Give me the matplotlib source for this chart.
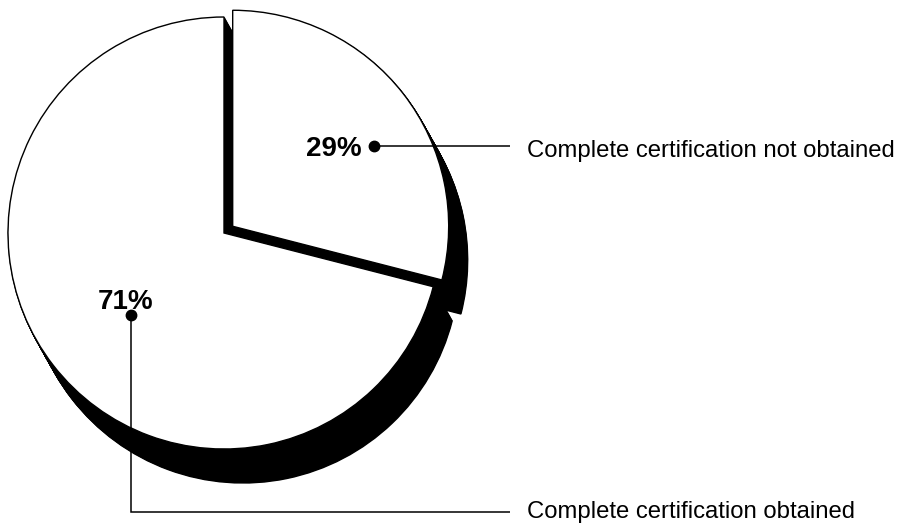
import matplotlib
matplotlib.use("Agg")
import matplotlib.pyplot as plt

# Certification status shares
labels = ["Complete certification not obtained", "Complete certification obtained"]
shares = [29, 71]
pct_labels = ["29%", "71%"]

W, H = 897, 524
fig = plt.figure(figsize=(W / 100, H / 100), dpi=100)
ax = fig.add_axes([0, 0, 1, 1])

center = (224, 291)
radius = 216
explode = [11.0, 0.0]

# extruded black shadow, built from stacked offset copies of the pie
shadow_dx, shadow_dy = 19, -34
steps = 40
for k in range(1, steps + 1):
    t = k / steps
    ax.pie(shares, startangle=90, counterclock=False, radius=radius,
           center=(center[0] + shadow_dx * t, center[1] + shadow_dy * t),
           explode=explode, colors=["black", "black"],
           wedgeprops=dict(edgecolor="black", linewidth=1))

# white pie on top
ax.pie(shares, startangle=90, counterclock=False, radius=radius,
       center=center, explode=explode, colors=["white", "white"],
       wedgeprops=dict(edgecolor="black", linewidth=1.0))

ax.set_xlim(0, W)
ax.set_ylim(0, H)
ax.set_aspect("equal")
ax.axis("off")

font = "Liberation Sans"

# 29% callout
ax.plot([374, 510], [378, 378], color="black", lw=1.1, solid_capstyle="butt")
ax.plot([374], [378], "o", color="black", ms=7.5)
ax.text(362, 368, pct_labels[0], ha="right", va="baseline",
        fontsize=20, fontweight="bold", family=font)
ax.text(527, 367, labels[0], ha="left", va="baseline", fontsize=17.2, family=font)

# 71% callout
ax.plot([131, 131, 510], [209, 12, 12], color="black", lw=1.1,
        solid_capstyle="butt", solid_joinstyle="miter")
ax.plot([131], [209], "o", color="black", ms=7.5)
ax.text(126, 215, pct_labels[1], ha="center", va="baseline",
        fontsize=20, fontweight="bold", family=font)
ax.text(527, 6, labels[1], ha="left", va="baseline", fontsize=17.2, family=font)

fig.savefig("out.png", dpi=100, facecolor="white")
